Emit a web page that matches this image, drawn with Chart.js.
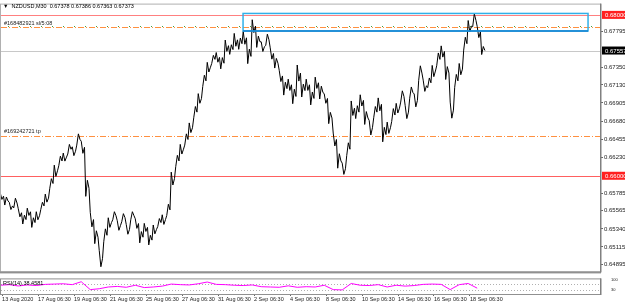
<!DOCTYPE html>
<html>
<head>
<meta charset="utf-8">
<script src="https://cdn.jsdelivr.net/npm/chart.js@4.4.1/dist/chart.umd.min.js"></script>
<style>
  body { margin: 0; background: #fff; }
  #wrap { position: relative; width: 625px; height: 304px; }
  #main { position: absolute; left: 0; top: 0; }
  #rsi { position: absolute; left: 0; top: 275px; }
</style>
</head>
<body>
<div id="wrap">
  <canvas id="main" width="625" height="276"></canvas>
  <canvas id="rsi" width="625" height="29"></canvas>
</div>
<script>
// NZDUSD M30, one sample every quarter of a trading day
const closes = [
  0.65746, 0.65686, 0.65625, 0.65661, 0.65540, 0.65455, 0.65552, 0.65418, 0.65503, 0.65625,
  0.65722, 0.65904, 0.66062, 0.66184, 0.66232, 0.66330, 0.66305, 0.66451, 0.66354, 0.65844,
  0.65455, 0.65236, 0.64969, 0.65260, 0.65418, 0.65503, 0.65382, 0.65479, 0.65333, 0.65503,
  0.65406, 0.65236, 0.65358, 0.65200, 0.65333, 0.65418, 0.65455, 0.65576, 0.65965, 0.66184,
  0.66330, 0.66451, 0.66597, 0.66791, 0.66961, 0.67180, 0.67350, 0.67447, 0.67472, 0.67399,
  0.67617, 0.67569, 0.67690, 0.67642, 0.67715, 0.67484, 0.67860, 0.67666, 0.67605, 0.67690,
  0.67520, 0.67399, 0.67241, 0.67083, 0.67131, 0.66986, 0.67277, 0.67059, 0.67131, 0.66961,
  0.67156, 0.67034, 0.66961, 0.66718, 0.66451, 0.66184, 0.66087, 0.66330, 0.66840, 0.66791,
  0.66937, 0.66718, 0.66597, 0.66791, 0.66888, 0.66512, 0.66597, 0.66755, 0.66840, 0.66986,
  0.66791, 0.67034, 0.66937, 0.67277, 0.67119, 0.67156, 0.67302, 0.67447, 0.67545, 0.67277,
  0.66816, 0.67180, 0.67326, 0.67642, 0.67860, 0.67933, 0.67788, 0.67557
];
// high-low range of each sample, in pips
const rangesPips = [
  8, 10, 9, 12, 10, 11, 9, 12, 10, 9,
  10, 12, 14, 12, 10, 12, 11, 14, 15, 20,
  18, 16, 20, 16, 12, 10, 12, 10, 12, 10,
  12, 14, 10, 12, 11, 10, 12, 14, 16, 14,
  12, 14, 12, 14, 12, 14, 12, 10, 12, 14,
  14, 12, 16, 14, 16, 18, 16, 14, 12, 14,
  14, 12, 14, 16, 14, 18, 20, 16, 14, 16,
  14, 16, 12, 14, 16, 18, 14, 16, 18, 16,
  14, 16, 18, 14, 16, 18, 14, 16, 12, 14,
  16, 14, 16, 18, 14, 12, 14, 16, 14, 16,
  20, 16, 14, 16, 14, 16, 14, 10
];
// RSI(14), one sample every half trading day
const rsiValues = [
  60, 64, 55, 62, 58, 66, 68, 70, 64, 84,
  30, 36, 48, 52, 46, 60, 44, 48, 54, 68,
  64, 62, 70, 82, 66, 64, 60, 58, 62, 50,
  48, 46, 56, 46, 50, 48, 60, 30, 28, 72,
  60, 58, 64, 48, 60, 54, 58, 66, 68, 66,
  30, 64, 72, 40
];
const xTickDays = [0, 2, 4, 6, 8, 10, 12, 14, 16, 18, 20, 22, 24, 26];
const xLabels = ['13 Aug 2020', '17 Aug 06:30', '19 Aug 06:30', '21 Aug 06:30', '25 Aug 06:30',
  '27 Aug 06:30', '31 Aug 06:30', '2 Sep 06:30', '4 Sep 06:30', '8 Sep 06:30',
  '10 Sep 06:30', '14 Sep 06:30', '16 Sep 06:30', '18 Sep 06:30'];
const yTicks = [0.67795, 0.67350, 0.67130, 0.66905, 0.66680, 0.66455, 0.66230,
  0.65785, 0.65565, 0.65340, 0.65115, 0.64895];
const rsiTicks = [100, 70, 30, 0];

const resistance = 0.68000, support = 0.66000, bid = 0.67557;
const slPrice = 0.67848, tpPrice = 0.66500;
const boxFrom = 13.39, boxTo = 32.56, boxHigh = 0.68018, boxLow = 0.67800;
const xMin = -0.06, xMax = 33.28;

const FONT = 'Liberation Sans';

// each sample drawn as a small high/low/close zigzag, like packed M30 bars
const pricePts = [];
closes.forEach((c, i) => {
  const h = c + rangesPips[i] * 0.00005, l = c - rangesPips[i] * 0.00005;
  const t = i * 0.25 - 0.1;
  const [a, b] = i % 2 ? [l, h] : [h, l];
  pricePts.push({ x: t, y: a }, { x: t + 0.09, y: b }, { x: t + 0.18, y: c });
});
const rsiPts = rsiValues.map((v, i) => ({ x: i * 0.5 - 0.1, y: v }));

function tag(ctx, area, y, text, bg) {
  ctx.save();
  ctx.fillStyle = bg;
  ctx.fillRect(area.right + 1, y - 4, 24, 8);
  ctx.fillStyle = '#fff';
  ctx.font = '6px ' + FONT;
  ctx.textBaseline = 'middle';
  ctx.fillText(text, area.right + 4, y + 0.5);
  ctx.restore();
}

function hline(ctx, area, y, color, dash, offset) {
  ctx.save();
  ctx.strokeStyle = color;
  ctx.lineWidth = 1;
  ctx.setLineDash(dash || []);
  ctx.lineDashOffset = offset || 0;
  ctx.beginPath();
  ctx.moveTo(area.left, Math.round(y) + 0.5);
  ctx.lineTo(area.right, Math.round(y) + 0.5);
  ctx.stroke();
  ctx.restore();
}

const mainDecor = {
  id: 'mainDecor',
  beforeDatasetsDraw(chart) {
    const { ctx, chartArea: a, scales: { y } } = chart;
    hline(ctx, a, y.getPixelForValue(resistance), '#ff8080');
    hline(ctx, a, y.getPixelForValue(support), '#ff6060');
    hline(ctx, a, y.getPixelForValue(bid), '#c8c8c8');
    hline(ctx, a, y.getPixelForValue(slPrice), '#ff9040', [6, 2, 1, 2]);
    hline(ctx, a, y.getPixelForValue(slPrice) - 1, '#40a040', [1, 10], -7);
    hline(ctx, a, y.getPixelForValue(tpPrice), '#ff9040', [6, 2, 1, 2]);
    ctx.save();
    ctx.font = '5.5px ' + FONT;
    ctx.fillStyle = '#222';
    ctx.textBaseline = 'bottom';
    ctx.fillText('#168482921 sl/5:08', 4, y.getPixelForValue(slPrice) - 1);
    ctx.fillText('#169242721 tp', 4, y.getPixelForValue(tpPrice) - 1);
    ctx.restore();
  },
  afterDatasetsDraw(chart) {
    const { ctx, chartArea: a, scales: { x, y } } = chart;
    ctx.save();
    const bx0 = x.getPixelForValue(boxFrom), bx1 = x.getPixelForValue(boxTo);
    const by0 = y.getPixelForValue(boxHigh), by1 = y.getPixelForValue(boxLow);
    ctx.strokeStyle = '#30b0e8';
    ctx.lineWidth = 1.5;
    ctx.strokeRect(bx0, by0, bx1 - bx0, by1 - by0);
    ctx.strokeStyle = '#1080d0';
    ctx.beginPath();
    ctx.moveTo(bx0, by1);
    ctx.lineTo(bx1, by1);
    ctx.stroke();
    // frame
    ctx.strokeStyle = '#b0b0b0';
    ctx.lineWidth = 1;
    ctx.strokeRect(a.left - 0.5, a.top - 0.5, a.right - a.left, a.bottom - a.top + 1);
    ctx.fillStyle = '#909090';
    ctx.fillRect(a.left - 1, a.bottom, a.right - a.left + 1, 2);
    ctx.fillStyle = '#808080';
    ctx.fillRect(a.right - 1, a.top - 1, 1.5, a.bottom - a.top + 2);
    // header
    ctx.font = '5.5px ' + FONT;
    ctx.fillStyle = '#000';
    ctx.textBaseline = 'middle';
    ctx.fillText('\u25BC  NZDUSD,M30  0.67378 0.67386 0.67363 0.67373', 3, 6);
    ctx.restore();
    tag(ctx, a, y.getPixelForValue(resistance), resistance.toFixed(5), '#ff2020');
    tag(ctx, a, y.getPixelForValue(support), support.toFixed(5), '#ff2020');
    tag(ctx, a, y.getPixelForValue(bid), bid.toFixed(5), '#000');
  }
};

new Chart('main', {
  type: 'line',
  data: {
    datasets: [{
      data: pricePts,
      borderColor: '#000',
      borderWidth: 1,
      pointRadius: 0,
      tension: 0
    }]
  },
  options: {
    responsive: false,
    animation: false,
    layout: { padding: { left: 1, top: 2, right: 0, bottom: 1 } },
    plugins: { legend: { display: false }, tooltip: { enabled: false } },
    scales: {
      x: { type: 'linear', min: xMin, max: xMax, display: false },
      y: {
        position: 'right',
        min: 0.64811, max: 0.68128,
        afterBuildTicks: s => { s.ticks = yTicks.map(v => ({ value: v })); },
        afterFit: s => { s.width = 24; },
        grid: { drawOnChartArea: false, drawTicks: true, tickLength: 2, color: '#666' },
        border: { display: false },
        ticks: {
          padding: 1,
          color: '#222',
          font: { family: FONT, size: 6 },
          callback: v => v.toFixed(5)
        }
      }
    }
  },
  plugins: [mainDecor]
});

const rsiDecor = {
  id: 'rsiDecor',
  beforeDatasetsDraw(chart) {
    const { ctx, chartArea: a, scales: { y } } = chart;
    hline(ctx, a, y.getPixelForValue(70), '#b0b0b0', [1, 2]);
    hline(ctx, a, y.getPixelForValue(30), '#b0b0b0', [1, 2]);
  },
  afterDatasetsDraw(chart) {
    const { ctx, chartArea: a } = chart;
    ctx.save();
    ctx.strokeStyle = '#909090';
    ctx.lineWidth = 1;
    ctx.strokeRect(a.left - 0.5, a.top - 0.5, a.right - a.left, a.bottom - a.top + 1);
    ctx.fillStyle = '#808080';
    ctx.fillRect(a.right - 1, a.top - 1, 1.5, a.bottom - a.top + 2);
    ctx.font = '5.5px ' + FONT;
    ctx.fillStyle = '#000';
    ctx.textBaseline = 'top';
    ctx.fillText('RSI(14) 38.4581', 3, a.top + 1);
    ctx.restore();
  }
};

new Chart('rsi', {
  type: 'line',
  data: {
    datasets: [{
      data: rsiPts,
      borderColor: '#ff00ff',
      borderWidth: 1,
      pointRadius: 0,
      tension: 0
    }]
  },
  options: {
    responsive: false,
    animation: false,
    layout: { padding: { left: 1, top: 2, right: 0, bottom: 0 } },
    plugins: { legend: { display: false }, tooltip: { enabled: false } },
    scales: {
      x: {
        type: 'linear', min: xMin, max: xMax,
        afterBuildTicks: s => { s.ticks = xTickDays.map(v => ({ value: v })); },
        afterFit: s => { s.height = 10; },
        grid: { drawOnChartArea: false, drawTicks: true, tickLength: 2, color: '#666' },
        border: { display: false },
        ticks: {
          autoSkip: false, maxRotation: 0, align: 'start', padding: 0,
          color: '#222',
          font: { family: FONT, size: 5.5 },
          callback: (v, i) => xLabels[i]
        }
      },
      y: {
        position: 'right',
        min: 0, max: 100,
        afterBuildTicks: s => { s.ticks = rsiTicks.map(v => ({ value: v })); },
        afterFit: s => { s.width = 24; },
        grid: { display: false },
        border: { display: false },
        ticks: {
          padding: 2,
          color: '#222',
          font: { family: FONT, size: 4 }
        }
      }
    }
  },
  plugins: [rsiDecor]
});
</script>
</body>
</html>
